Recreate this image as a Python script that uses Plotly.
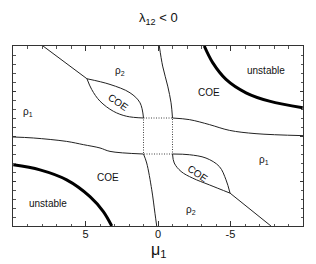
import plotly.graph_objects as go

# Boundary curves (mu1, y)
ul_line_x = [7.93, 4.90]
ul_line_y = [10.0, 6.36]
ul_lobe_up_x = [4.90, 3.31, 1.93, 1.24, 1.0]
ul_lobe_up_y = [6.36, 5.73, 4.80, 3.69, 2.0]
ul_lobe_lo_x = [4.90, 4.57, 4.0, 3.08, 2.16, 1.0]
ul_lobe_lo_y = [6.36, 5.16, 3.87, 2.75, 2.19, 2.0]
top_vert_x = [-0.09, -0.32, -0.67, -0.90, -1.0]
top_vert_y = [10.0, 7.77, 5.54, 3.69, 2.0]
right_h_x = [-1.0, -2.16, -3.54, -4.92, -6.76, -10.0]
right_h_y = [2.0, 1.82, 1.27, 0.63, 0.26, 0.04]
left_h_x = [10.0, 8.6, 6.3, 5.15, 4.0, 3.31, 1.0]
left_h_y = [-0.11, -0.22, -0.6, -0.96, -1.33, -1.71, -2.0]
bot_vert_x = [1.0, 0.78, 0.43, 0.21, 0.09]
bot_vert_y = [-2.0, -3.0, -5.98, -8.58, -10.0]
lr_lobe_up_x = [-1.0, -2.16, -3.31, -4.23, -4.69, -4.97]
lr_lobe_up_y = [-2.0, -2.08, -2.45, -3.39, -4.87, -6.35]
lr_lobe_lo_x = [-1.0, -1.12, -1.59, -2.39, -3.54, -4.97]
lr_lobe_lo_y = [-2.0, -3.0, -3.94, -4.68, -5.43, -6.35]
lr_line_x = [-4.97, -7.79]
lr_line_y = [-6.35, -10.0]
# Instability boundaries (thick)
unst_ur_x = [-3.19, -3.77, -4.69, -6.07, -7.68, -9.98]
unst_ur_y = [10.0, 8.15, 6.29, 4.8, 3.87, 3.13]
unst_ll_x = [9.98, 8.14, 6.3, 4.69, 3.77, 3.19]
unst_ll_y = [-3.2, -3.76, -4.87, -6.73, -8.4, -10.0]
# Dotted square
box_x = [1, -1, -1, 1, 1]
box_y = [2, 2, -2, -2, 2]

# Region labels
lab_text = ["ρ<sub>2</sub>", "COE", "ρ<sub>1</sub>", "unstable", "COE",
            "COE", "unstable", "ρ<sub>1</sub>", "COE", "ρ<sub>2</sub>"]
lab_x = [2.62, 2.74, 9.0, -7.45, -3.54, 3.43, 7.57, -7.33, -2.74, -2.28]
lab_y = [7.22, 3.69, 2.64, 7.33, 4.8, -4.6, -7.47, -2.71, -4.12, -8.2]
lab_ang = [0, 35, 0, 0, 0, 0, 0, 0, 35, 0]

tick_vals = [5, 0, -5]
tick_text = ["5", "0", "-5"]

FONT = "Liberation Sans, Arial"

fig = go.Figure()
thin = [(ul_line_x, ul_line_y), (ul_lobe_up_x, ul_lobe_up_y), (ul_lobe_lo_x, ul_lobe_lo_y),
        (top_vert_x, top_vert_y), (right_h_x, right_h_y), (left_h_x, left_h_y),
        (bot_vert_x, bot_vert_y), (lr_lobe_up_x, lr_lobe_up_y), (lr_lobe_lo_x, lr_lobe_lo_y),
        (lr_line_x, lr_line_y)]
for xs, ys in thin:
    fig.add_trace(go.Scatter(x=xs, y=ys, mode="lines", line=dict(color="#222", width=1, shape="spline"),
                             showlegend=False, hoverinfo="skip"))
for xs, ys in [(unst_ur_x, unst_ur_y), (unst_ll_x, unst_ll_y)]:
    fig.add_trace(go.Scatter(x=xs, y=ys, mode="lines", line=dict(color="#000", width=3, shape="spline"),
                             showlegend=False, hoverinfo="skip"))
fig.add_trace(go.Scatter(x=box_x, y=box_y, mode="lines", line=dict(color="#444", width=1, dash="1px,1.5px"),
                         showlegend=False, hoverinfo="skip"))

for t, x, y, a in zip(lab_text, lab_x, lab_y, lab_ang):
    fig.add_annotation(x=x, y=y, text=t, showarrow=False, textangle=a,
                       font=dict(family=FONT, size=10, color="#111"))

# Title and x-axis title as paper annotations for exact placement
fig.add_annotation(xref="paper", yref="paper", x=0.5, y=(226 - 20) / 179, text="λ<sub>12</sub> < 0",
                   showarrow=False, xanchor="center", yanchor="middle",
                   font=dict(family=FONT, size=13, color="#111"))
fig.add_annotation(xref="paper", yref="paper", x=0.5, y=(226 - 250) / 179, text="μ<sub>1</sub>",
                   showarrow=False, xanchor="center", yanchor="middle",
                   font=dict(family=FONT, size=16, color="#111"))

fig.update_layout(
    width=316, height=264,
    margin=dict(l=13, r=13, t=46, b=38, autoexpand=False),
    paper_bgcolor="white", plot_bgcolor="white",
    xaxis=dict(range=[10, -10], tickvals=tick_vals, ticktext=tick_text, ticks="inside", ticklen=5,
               tickcolor="#333", showline=True, linecolor="#333", linewidth=1, mirror="allticks",
               showgrid=False, zeroline=False, automargin=False, ticklabelstandoff=-2,
               minor=dict(dtick=1, tick0=0, ticks="inside", ticklen=2.5, tickcolor="#555", showgrid=False),
               tickfont=dict(family=FONT, size=11, color="#111")),
    yaxis=dict(range=[-10, 10], tickvals=[-5, 0, 5], showticklabels=False, ticks="inside", ticklen=3,
               tickcolor="#333", showline=True, linecolor="#333", linewidth=1, mirror="allticks",
               showgrid=False, zeroline=False, automargin=False,
               minor=dict(dtick=1, tick0=0, ticks="inside", ticklen=2.5, tickcolor="#555", showgrid=False)),
)
fig.write_html("out.html", config={"displayModeBar": False},
               post_script="document.body.style.margin='0';document.body.style.overflow='hidden';")
